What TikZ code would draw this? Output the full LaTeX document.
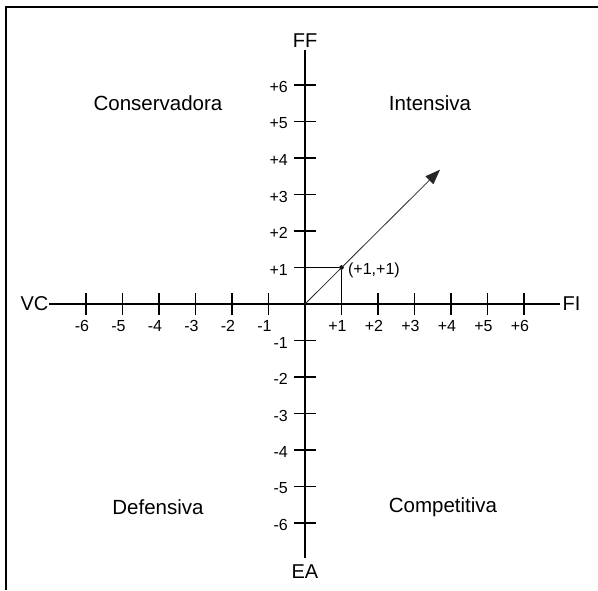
\documentclass[tikz,border=0pt]{standalone}
\usepackage{fontspec}
\setmainfont{Liberation Sans}
\usetikzlibrary{arrows.meta,positioning}

\begin{document}
\begin{tikzpicture}[x=36.5pt,y=36.5pt,>={Triangle[length=15pt,width=11pt]},
  axis/.style={line width=1.4pt},
  ticklbl/.style={font=\fontsize{16}{18}\selectfont,inner sep=1pt},
  quad/.style={font=\fontsize{20.5}{24}\selectfont},
  axlbl/.style={font=\fontsize{20}{24}\selectfont,inner sep=0pt}]
\useasboundingbox (-305pt,-286pt) rectangle (293pt,304pt);
\draw[line width=2pt] (-299pt,-286pt) -- (-299pt,297pt) -- (293pt,297pt);
\coordinate (o) at (0,0);
\coordinate (xneg) at (-7,0);
\coordinate (xpos) at (7,0);
\coordinate (ypos) at (0,6.95);
\coordinate (yneg) at (0,-6.95);
\node[axlbl,left=1pt of xneg] (vc) {VC};
\node[axlbl,right=2pt of xpos] (fi) {FI};
\node[axlbl,above=3pt of ypos] (ff) {FF};
\node[axlbl,below=7pt of yneg] (ea) {EA};
\draw[axis] (xneg) -- (xpos);
\draw[axis] (ypos) -- (yneg);
\foreach \i in {1,...,6} {
  \draw[axis] (\i,-0.3) -- (\i,0.3);
  \draw[axis] (-\i,-0.3) -- (-\i,0.3);
  \draw[axis] (-0.3,\i) -- (0.3,\i);
  \draw[axis] (-0.3,-\i) -- (0.3,-\i);
  \node[ticklbl] at ([shift={(-4pt,-22pt)}]\i,0) {+\i};
  \node[ticklbl] at ([shift={(-4pt,-22pt)}]-\i,0) {-\i};
  \node[ticklbl,anchor=east] at ([shift={(-16pt,-2pt)}]0,\i) {+\i};
  \node[ticklbl,anchor=east] at ([shift={(-16pt,-2pt)}]0,-\i) {-\i};
}
\coordinate (x1) at (1,0);
\coordinate (y1) at (0,1);
\node[circle,fill,inner sep=1.6pt] (p) at (1,1) {};
\draw[axis] (y1) -- (p) -- (x1);
\node[ticklbl,right=3pt of p,yshift=-3pt] (plbl) {(+1,+1)};
\coordinate (tip) at (3.7,3.68);
\draw[->,line width=0.8pt,black!85] (o) -- (tip);
\node[quad] (cons) at (-147pt,201pt) {Conservadora};
\node[quad] (inte) at (125pt,201pt) {Intensiva};
\node[quad] (defe) at (-147pt,-203pt) {Defensiva};
\node[quad] (comp) at (138pt,-203pt) {Competitiva};
\end{tikzpicture}
\end{document}
